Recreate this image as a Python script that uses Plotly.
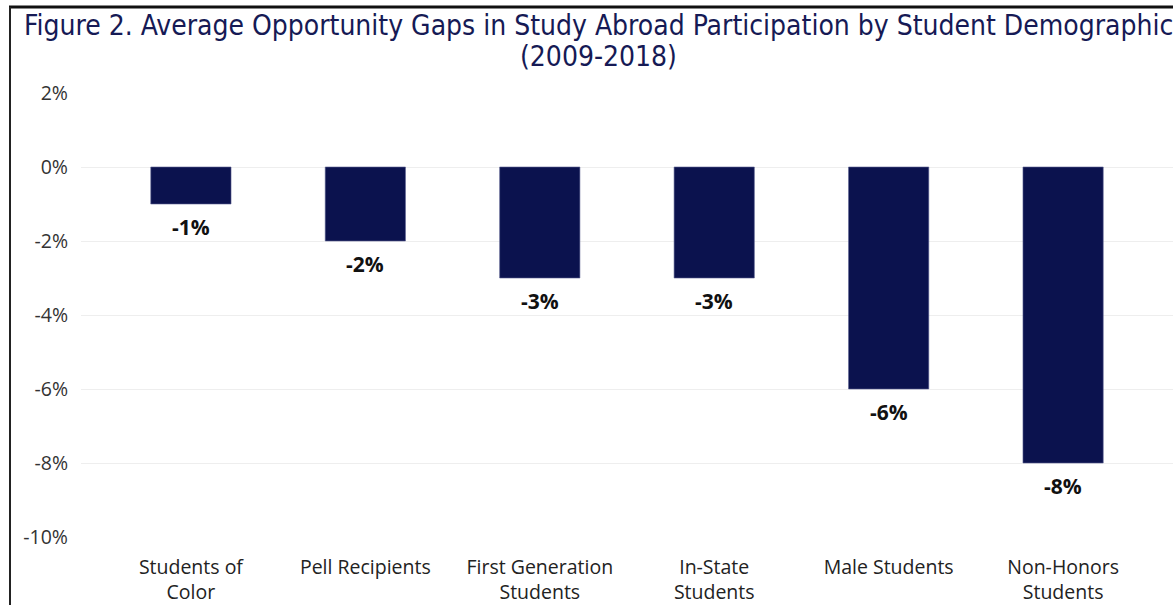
import plotly.graph_objects as go

# Chart data
categories = ["Students of<br>Color", "Pell Recipients", "First Generation<br>Students",
              "In-State<br>Students", "Male Students", "Non-Honors<br>Students"]
gaps = [-1, -2, -3, -3, -6, -8]          # percentage points
y_ticks = [2, 0, -2, -4, -6, -8, -10]
y_tick_labels = [f"{v}%" for v in y_ticks]
title_lines = ["Figure 2. Average Opportunity Gaps in Study Abroad Participation by Student Demographic",
               "(2009-2018)"]

W, H = 1174, 606
PLOT_L, PLOT_R, PLOT_T, PLOT_B = 81, 1173, 93, 537

BAR = "#0B124E"
TITLE = "#161A55"
FONT = "Open Sans, Noto Sans"

fig = go.Figure()
fig.add_trace(go.Bar(
    x=list(range(len(categories))), y=gaps,
    marker=dict(color=BAR, line=dict(color="#5A6090", width=0.6)),
    width=0.46, hoverinfo="skip",
))

# value labels under each bar
for i, v in enumerate(gaps):
    fig.add_annotation(x=i, y=v, text=f"<b>{v}%</b>", showarrow=False,
                       yanchor="top", yshift=-7,
                       font=dict(family=FONT, size=21, color="#111111"))

def px_x(px):
    return (px - PLOT_L) / (PLOT_R - PLOT_L)

def px_y(py):
    return (PLOT_B - py) / (PLOT_B - PLOT_T)

# two-line heading
for line, cy in zip(title_lines, [25, 56]):
    fig.add_annotation(xref="paper", yref="paper", x=px_x(598), y=px_y(cy),
                       text=line, showarrow=False, xanchor="center", yanchor="middle",
                       font=dict(family="DejaVu Sans Condensed, Noto Sans", size=28, color=TITLE))

# frame edges of the visual: top and left
fig.add_shape(type="line", xref="paper", yref="paper",
              x0=px_x(9), x1=px_x(W - 1), y0=px_y(7), y1=px_y(7),
              line=dict(color="#111111", width=3), layer="above")
fig.add_shape(type="line", xref="paper", yref="paper",
              x0=px_x(10), x1=px_x(10), y0=px_y(7), y1=px_y(H - 1),
              line=dict(color="#222222", width=2), layer="above")

fig.update_layout(
    width=W, height=H,
    margin=dict(l=PLOT_L, r=W - PLOT_R, t=PLOT_T, b=H - PLOT_B),
    paper_bgcolor="white", plot_bgcolor="white",
    showlegend=False,
    xaxis=dict(
        range=[-0.63, 5.63],
        tickmode="array", tickvals=list(range(len(categories))), ticktext=categories,
        showgrid=False, zeroline=False, showline=False, ticks="",
        ticklabelstandoff=16,
        tickfont=dict(family=FONT, size=19.5, color="#222222"),
    ),
    yaxis=dict(
        range=[-10, 2],
        tickmode="array", tickvals=y_ticks, ticktext=y_tick_labels,
        showgrid=True, gridcolor="#EEEEEE", gridwidth=1,
        zeroline=False, showline=False, ticks="", ticklabelstandoff=12,
        tickfont=dict(family=FONT, size=19.5, color="#333333"),
    ),
)

fig.write_html("out.html")
